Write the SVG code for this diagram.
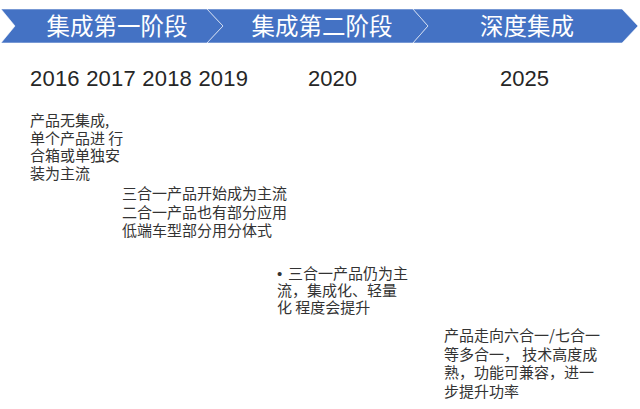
<svg xmlns="http://www.w3.org/2000/svg" width="640" height="409" viewBox="0 0 640 409">
<style>
.chev{fill:#4472C4;stroke:#ffffff;stroke-opacity:0.55;stroke-width:1}
.ban{font-family:"Noto Sans CJK SC",sans-serif;font-size:23.5px;fill:#ffffff;text-anchor:middle}
.yr{font-family:"Liberation Sans",Arial,sans-serif;font-size:22px;fill:#262626}
.body{font-family:"Noto Sans CJK SC",sans-serif;font-size:15px;fill:#333333}
.bul{font-family:"Liberation Sans",Arial,sans-serif}
</style>
<rect width="640" height="409" fill="#ffffff"/>
<g id="stage1">
<polygon class="chev" points="1,9 207,9 223,26 207,43 1,43 15,26"/>
<text class="ban" x="117" y="35">集成第一阶段</text>
</g>
<g id="stage2">
<polygon class="chev" points="207,9 413,9 428,26 413,43 207,43 223,26"/>
<text class="ban" x="322" y="35">集成第二阶段</text>
</g>
<g id="stage3">
<polygon class="chev" points="413,9 622,9 638,26 622,43 413,43 428,26"/>
<text class="ban" x="527" y="35">深度集成</text>
</g>
<g id="years">
<text class="yr" x="30" y="86" textLength="218" lengthAdjust="spacing">2016 2017 2018 2019</text>
<text class="yr" x="308" y="86">2020</text>
<text class="yr" x="500" y="86">2025</text>
</g>
<g id="note1">
<text class="body" x="30" y="126">产品无集成,</text>
<text class="body" x="30" y="143.5">单个产品进 行</text>
<text class="body" x="30" y="161">合箱或单独安</text>
<text class="body" x="30" y="178.5">装为主流</text>
</g>
<g id="note2">
<text class="body" x="122" y="199">三合一产品开始成为主流</text>
<text class="body" x="122" y="217.5">二合一产品也有部分应用</text>
<text class="body" x="122" y="236">低端车型部分用分体式</text>
</g>
<g id="note3">
<text class="body" x="277" y="279"><tspan class="bul">•</tspan><tspan x="288">三合一产品仍为主</tspan></text>
<text class="body" x="277" y="296">流，集成化、轻量</text>
<text class="body" x="277" y="313">化 程度会提升</text>
</g>
<g id="note4">
<text class="body" x="444" y="341">产品走向六合一/七合一</text>
<text class="body" x="444" y="359.5">等多合一， 技术高度成</text>
<text class="body" x="444" y="378">熟，功能可兼容，进一</text>
<text class="body" x="444" y="396.5">步提升功率</text>
</g>
<g id="connectors"/>
</svg>
